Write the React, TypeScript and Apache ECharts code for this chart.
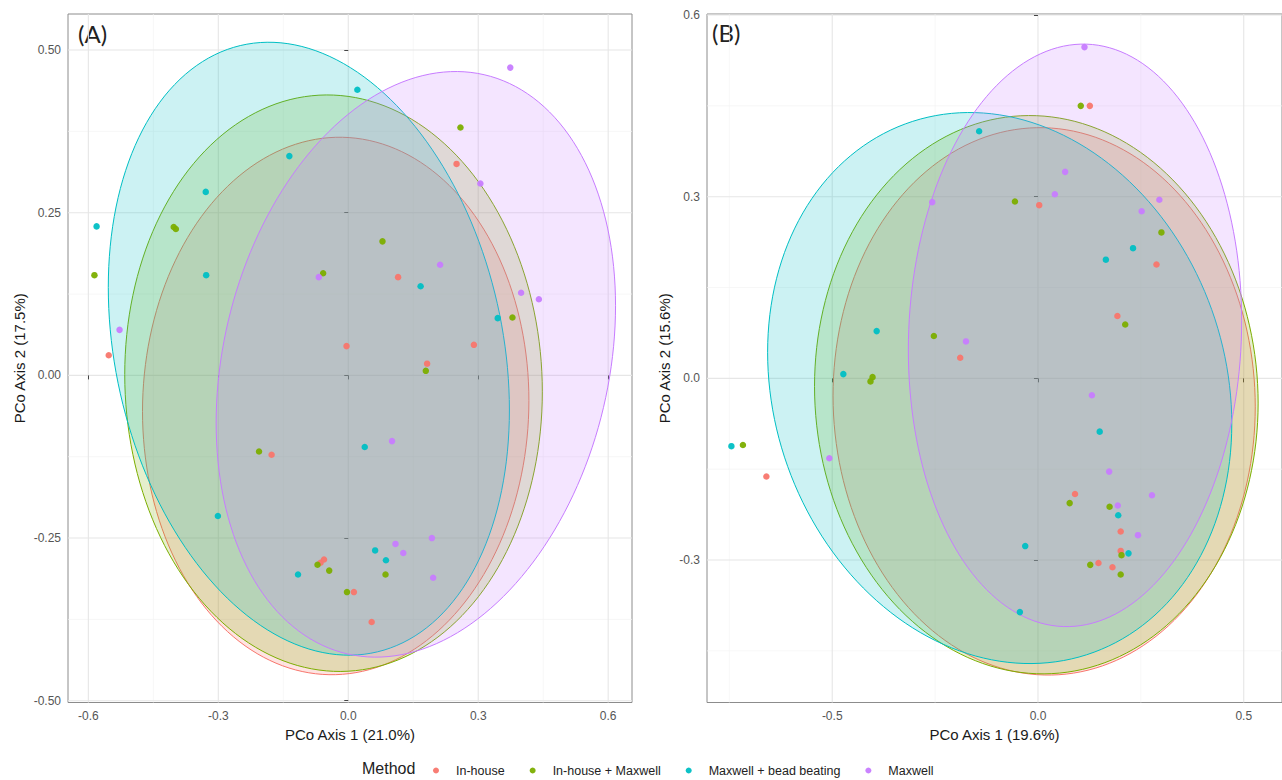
import React, { useEffect, useRef } from "react";
import * as echarts from "echarts";

const FONT = "Liberation Sans, Arial, sans-serif";
const METHODS = ["In-house", "In-house + Maxwell", "Maxwell + bead beating", "Maxwell"];
const COLORS = ["#F8766D", "#7CAE00", "#00BFC4", "#C77CFF"];

// ---------- Panel A ----------
const A_IN_HOUSE = [
  [0.25, 0.325], [0.115, 0.151], [-0.553, 0.031], [-0.004, 0.045], [0.29, 0.047],
  [0.182, 0.018], [-0.177, -0.122], [-0.056, -0.283], [-0.064, -0.288], [0.013, -0.333], [0.054, -0.379],
];
const A_IH_MAXWELL = [
  [0.259, 0.381], [-0.403, 0.228], [-0.398, 0.225], [0.079, 0.206], [-0.058, 0.157],
  [-0.586, 0.154], [0.379, 0.089], [0.179, 0.007], [-0.206, -0.117], [-0.071, -0.291],
  [-0.044, -0.3], [0.086, -0.306], [-0.003, -0.333],
];
const A_BEAD = [
  [0.021, 0.439], [-0.136, 0.337], [-0.329, 0.282], [-0.581, 0.229], [-0.328, 0.154],
  [0.167, 0.137], [0.345, 0.088], [0.038, -0.11], [-0.301, -0.216], [0.062, -0.269],
  [0.087, -0.284], [-0.116, -0.306],
];
const A_MAXWELL = [
  [0.374, 0.473], [0.305, 0.295], [0.212, 0.17], [-0.068, 0.151], [0.399, 0.127],
  [0.44, 0.117], [-0.528, 0.07], [0.101, -0.101], [0.193, -0.25], [0.109, -0.259],
  [0.127, -0.273], [0.196, -0.311],
];
// ellipse: centre x, centre y, half-width, half-height, skew (cos of phase)
const A_ELLIPSES = [
  [-0.029, -0.047, 0.446, 0.413, 0.02],
  [-0.034, -0.012, 0.482, 0.443, -0.03],
  [-0.091, 0.041, 0.463, 0.471, -0.2],
  [0.156, 0.017, 0.461, 0.45, 0.2],
];
const A_X_TICKS = [-0.6, -0.3, 0, 0.3, 0.6];
const A_X_MINOR = [-0.45, -0.15, 0.15, 0.45];
const A_Y_TICKS = [-0.5, -0.25, 0, 0.25, 0.5];
const A_Y_MINOR = [-0.375, -0.125, 0.125, 0.375];

// ---------- Panel B ----------
const B_IN_HOUSE = [
  [0.126, 0.45], [0.003, 0.286], [0.288, 0.188], [0.193, 0.103], [-0.189, 0.034],
  [-0.66, -0.162], [0.09, -0.191], [0.201, -0.253], [0.201, -0.285], [0.147, -0.305], [0.181, -0.312],
];
const B_IH_MAXWELL = [
  [0.104, 0.45], [-0.056, 0.292], [0.3, 0.241], [0.212, 0.089], [-0.253, 0.07],
  [-0.402, 0.002], [-0.407, -0.005], [-0.717, -0.11], [0.077, -0.206], [0.174, -0.212],
  [0.203, -0.292], [0.127, -0.308], [0.201, -0.324],
];
const B_BEAD = [
  [-0.143, 0.408], [0.231, 0.215], [0.165, 0.196], [-0.392, 0.078], [-0.473, 0.007],
  [0.15, -0.088], [-0.745, -0.112], [0.195, -0.226], [-0.031, -0.277], [0.22, -0.289], [-0.044, -0.386],
];
const B_MAXWELL = [
  [0.113, 0.547], [0.066, 0.341], [0.041, 0.304], [-0.257, 0.291], [0.295, 0.295],
  [0.252, 0.276], [-0.175, 0.061], [0.131, -0.028], [-0.507, -0.132], [0.173, -0.154],
  [0.277, -0.193], [0.194, -0.21], [0.243, -0.259],
];
const B_ELLIPSES = [
  [0.015, -0.038, 0.513, 0.452, -0.02],
  [-0.004, -0.027, 0.539, 0.461, -0.03],
  [-0.093, -0.016, 0.564, 0.455, -0.13],
  [0.09, 0.071, 0.405, 0.481, 0.05],
];
const B_X_TICKS = [-0.5, 0, 0.5];
const B_X_MINOR = [-0.75, -0.25, 0.25];
const B_Y_TICKS = [-0.3, 0, 0.3, 0.6];
const B_Y_MINOR = [-0.45, -0.15, 0.15, 0.45];

function rgba(hex: string, a: number) {
  const n = parseInt(hex.slice(1), 16);
  return `rgba(${(n >> 16) & 255},${(n >> 8) & 255},${n & 255},${a})`;
}

function gridData(xt: number[], xm: number[], yt: number[], ym: number[]) {
  return [
    ...xm.map((v) => [v, 0, 0, 1]),
    ...ym.map((v) => [0, v, 1, 1]),
    ...xt.map((v) => [v, 0, 0, 0]),
    ...yt.map((v) => [0, v, 1, 0]),
  ];
}

function gridSeries(idx: number, data: number[][]) {
  return {
    type: "custom",
    xAxisIndex: idx,
    yAxisIndex: idx,
    silent: true,
    z: 0,
    encode: { x: 0, y: 1 },
    data,
    renderItem: (params: any, api: any) => {
      const cs = params.coordSys;
      const orient = api.value(2);
      const minor = api.value(3);
      const style = { stroke: minor ? "#f3f3f3" : "#e6e6e6", lineWidth: minor ? 0.7 : 1.1 };
      const p = api.coord([api.value(0), api.value(1)]);
      if (orient === 0) {
        return { type: "line", shape: { x1: p[0], y1: cs.y, x2: p[0], y2: cs.y + cs.height }, style };
      }
      return { type: "line", shape: { x1: cs.x, y1: p[1], x2: cs.x + cs.width, y2: p[1] }, style };
    },
  };
}

function ellipseSeries(idx: number, ell: number[][]) {
  return {
    type: "custom",
    xAxisIndex: idx,
    yAxisIndex: idx,
    silent: true,
    z: 2,
    encode: { x: 0, y: 1 },
    data: ell.map((e, i) => [...e, i]),
    renderItem: (params: any, api: any) => {
      const cx = api.value(0), cy = api.value(1), w = api.value(2), h = api.value(3), c = api.value(4);
      const m = api.value(5);
      const s = Math.sqrt(1 - c * c);
      const pts: number[][] = [];
      const N = 180;
      for (let k = 0; k < N; k++) {
        const t = (2 * Math.PI * k) / N;
        pts.push(api.coord([cx + w * Math.cos(t), cy + h * (c * Math.cos(t) + s * Math.sin(t))]));
      }
      return {
        type: "polygon",
        shape: { points: pts },
        style: { fill: rgba(COLORS[m], 0.2), stroke: COLORS[m], lineWidth: 1 },
      };
    },
  };
}

function scatterSeries(idx: number, groups: number[][][]) {
  return groups.map((g, i) => ({
    type: "scatter",
    name: METHODS[i],
    xAxisIndex: idx,
    yAxisIndex: idx,
    data: g,
    symbol: "circle",
    symbolSize: 6.5,
    z: 3,
    itemStyle: { color: COLORS[i], opacity: 0.95 },
  }));
}

function axis(gridIndex: number, min: number, max: number, ticks: number[], dec: number, name: string, nameGap: number) {
  return {
    type: "value",
    gridIndex,
    min,
    max,
    name,
    nameLocation: "middle",
    nameGap,
    nameTextStyle: { fontSize: 15, color: "#1a1a1a", fontFamily: FONT },
    axisLine: { show: false },
    axisTick: { show: true, customValues: ticks, length: 4, lineStyle: { color: "#444", width: 1 } },
    axisLabel: {
      customValues: ticks,
      formatter: (v: number) => v.toFixed(dec),
      color: "#555",
      fontSize: 12,
      margin: 7,
      fontFamily: FONT,
    },
    splitLine: { show: false },
  };
}

export default function App() {
  const ref = useRef<HTMLDivElement>(null);
  useEffect(() => {
    if (!ref.current) return;
    const chart = echarts.init(ref.current, undefined, { renderer: "svg" });
    const gridCommon = { show: true, borderColor: "#8c8c8c", borderWidth: 1, backgroundColor: "transparent" };
    chart.setOption({
      animation: false,
      backgroundColor: "#ffffff",
      textStyle: { fontFamily: FONT },
      grid: [
        { ...gridCommon, left: 68, top: 14, width: 564, height: 688.5 },
        { ...gridCommon, left: 707, top: 14, width: 576, height: 688.5 },
      ],
      xAxis: [
        axis(0, -0.647, 0.655, A_X_TICKS, 1, "PCo Axis 1 (21.0%)", 24),
        axis(1, -0.8043, 0.593, B_X_TICKS, 1, "PCo Axis 1 (19.6%)", 24),
      ],
      yAxis: [
        axis(0, -0.5027, 0.5554, A_Y_TICKS, 2, "PCo Axis 2 (17.5%)", 41),
        axis(1, -0.5353, 0.6017, B_Y_TICKS, 1, "PCo Axis 2 (15.6%)", 35),
      ],
      legend: {
        data: METHODS,
        left: 428,
        top: 759,
        icon: "circle",
        itemWidth: 30,
        itemHeight: 6,
        itemGap: 25,
        selectedMode: false,
        textStyle: { fontSize: 12.5, color: "#222", fontFamily: FONT },
      },
      graphic: [
        { type: "text", left: 362, top: 760, style: { text: "Method", fontSize: 16, fill: "#222", fontFamily: FONT } },
        { type: "text", left: 78, top: 21, style: { text: "(A)", fontSize: 24, fill: "#222", fontFamily: "Lato, sans-serif" } },
        { type: "text", left: 712, top: 20, style: { text: "(B)", fontSize: 24, fill: "#222", fontFamily: "Lato, sans-serif" } },
      ],
      series: [
        gridSeries(0, gridData(A_X_TICKS, A_X_MINOR, A_Y_TICKS, A_Y_MINOR)),
        gridSeries(1, gridData(B_X_TICKS, B_X_MINOR, B_Y_TICKS, B_Y_MINOR)),
        ellipseSeries(0, A_ELLIPSES),
        ellipseSeries(1, B_ELLIPSES),
        ...scatterSeries(0, [A_IN_HOUSE, A_IH_MAXWELL, A_BEAD, A_MAXWELL]),
        ...scatterSeries(1, [B_IN_HOUSE, B_IH_MAXWELL, B_BEAD, B_MAXWELL]),
      ],
    });
    return () => chart.dispose();
  }, []);
  return <div ref={ref} style={{ position: "fixed", left: 0, top: 0, width: 1282, height: 780 }} />;
}
